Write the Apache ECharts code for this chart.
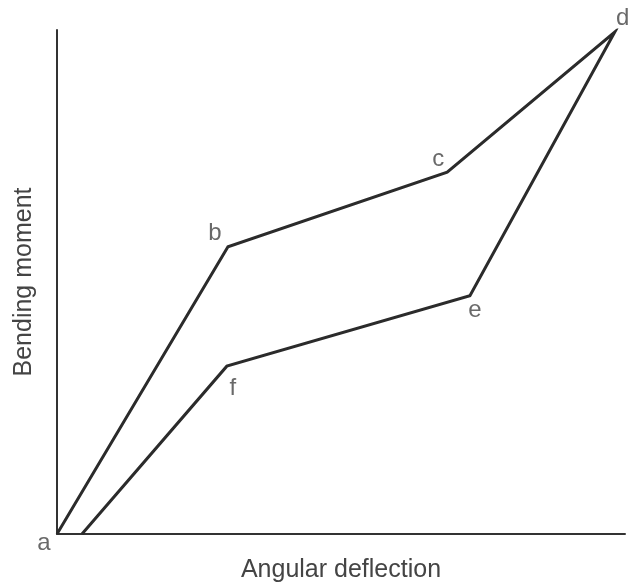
<!DOCTYPE html>
<html>
<head>
<meta charset="utf-8">
<script src="https://cdn.jsdelivr.net/npm/echarts@6/dist/echarts.min.js"></script>
<style>
  html, body { margin: 0; padding: 0; background: #fff; }
  #myChart { width: 631px; height: 588px; }
</style>
</head>
<body>
<div id="myChart"></div>
<script>
// path a -> b -> c -> d -> e -> f -> back down to the x axis
const pointNames = ['a', 'b', 'c', 'd', 'e', 'f', ''];
const deflection = [0, 30.1, 68.7, 98.2, 72.7, 29.9, 4.4];
const moment = [0, 57.0, 71.8, 99.6, 47.3, 33.3, 0];

const labelOffsets = [[-13, 9], [-13, -13], [-9, -13], [8, -14], [5, 15], [6, 22], [0, 0]];

let myChart = echarts.init(document.getElementById('myChart'));

let pathData = deflection.map((x, i) => [x, moment[i]]);
let labelData = pointNames.map((n, i) => ({
  value: [deflection[i], moment[i]],
  name: n,
  label: { offset: labelOffsets[i] }
})).filter(d => d.name !== '');

let option = {
  animation: false,
  grid: { left: 57, right: 6, top: 30, bottom: 51 },
  xAxis: {
    type: 'value',
    min: 0,
    max: 100,
    name: 'Angular deflection',
    nameLocation: 'middle',
    nameGap: 24,
    nameTextStyle: { fontFamily: 'Liberation Sans', fontSize: 25, color: '#444' },
    axisLine: { show: true, lineStyle: { color: '#333', width: 2 } },
    axisTick: { show: false },
    axisLabel: { show: false },
    splitLine: { show: false }
  },
  yAxis: {
    type: 'value',
    min: 0,
    max: 100,
    name: 'Bending moment',
    nameLocation: 'middle',
    nameGap: 20,
    nameTextStyle: { fontFamily: 'Liberation Sans', fontSize: 25, color: '#444' },
    axisLine: { show: true, lineStyle: { color: '#333', width: 2 } },
    axisTick: { show: false },
    axisLabel: { show: false },
    splitLine: { show: false }
  },
  series: [
    {
      type: 'line',
      data: pathData,
      symbol: 'none',
      lineStyle: { color: '#2b2b2b', width: 3, join: 'miter' }
    },
    {
      type: 'scatter',
      data: labelData,
      symbolSize: 1,
      itemStyle: { color: 'rgba(0,0,0,0)' },
      label: {
        show: true,
        position: 'inside',
        formatter: '{b}',
        fontFamily: 'Liberation Sans',
        fontSize: 24,
        color: '#444'
      }
    }
  ]
};
myChart.setOption(option, true);
</script>
</body>
</html>
